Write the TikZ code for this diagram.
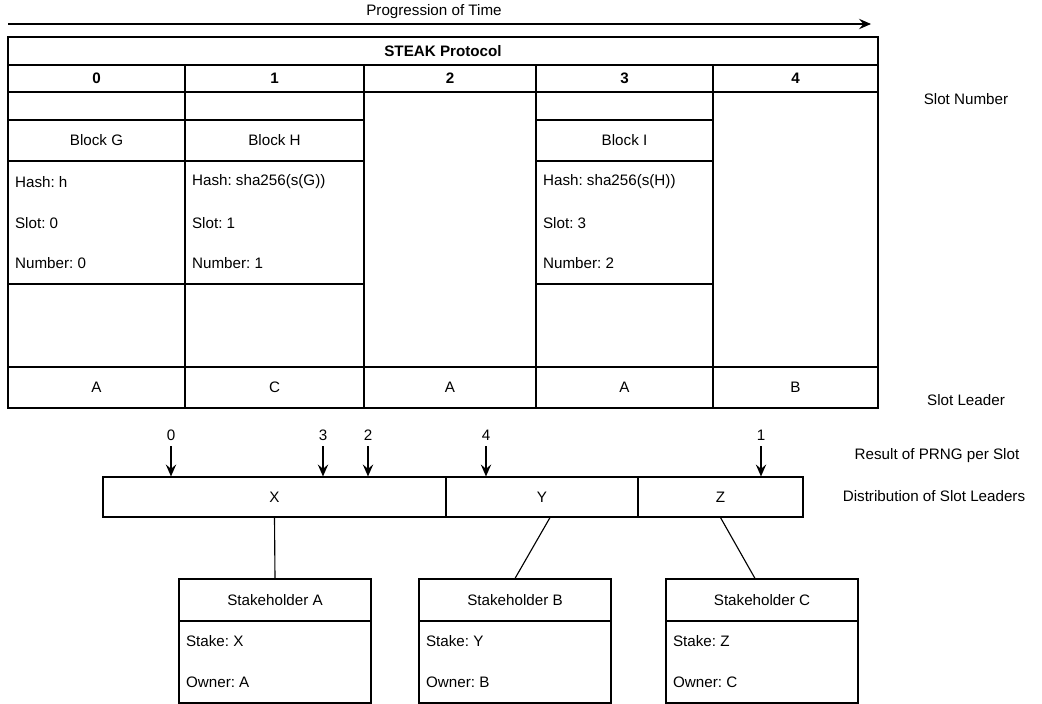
\documentclass[tikz,border=0pt]{standalone}
\usepackage{fontspec}
\setmainfont{Liberation Sans}
\frenchspacing
\usetikzlibrary{arrows.meta,positioning}

\tikzset{
  cell/.style={draw, rectangle, inner sep=0pt, line width=0.8pt, font=\fontsize{10.8}{13}\selectfont},
  spans/.style n args={4}{minimum width={(#3-#1)*0.025cm}, minimum height={(#4-#2)*0.025cm},
    at={({(#1+#3)/2},{(#2+#4)/2})}},
  txt/.style={inner sep=2pt, font=\fontsize{10.8}{13}\selectfont},
  lefttxt/.style={txt, anchor=west},
  arr/.style={-{Stealth[length=3mm, width=2.6mm, inset=1.1mm]}, line width=0.8pt},
  link/.style={line width=0.8pt}
}

\begin{document}
\begin{tikzpicture}[x=0.025cm, y=-0.025cm]
\useasboundingbox (0,0) rectangle (1042,704);

% Time arrow
\node[txt] (timelbl) at (434,12) {Progression of Time};
\coordinate (tstart) at (8,24);
\coordinate (tend) at (871,24);
\draw[arr] (tstart) -- (tend);

% Protocol table
\node[cell, spans={8}{37}{878}{65}] (title) {\textbf{STEAK Protocol}};
\foreach \i/\xa/\xb/\lead in {0/8/185/A, 1/185/364/C, 2/364/536/A, 3/536/713/A, 4/713/878/B} {
  \node[cell, spans={\xa}{65}{\xb}{92}] (hd\i) {\textbf{\i}};
  \node[cell, spans={\xa}{367}{\xb}{408}] (ld\i) {\lead};
}

% Slots without a block
\foreach \i/\xa/\xb in {2/364/536, 4/713/878} {
  \node[cell, spans={\xa}{92}{\xb}{367}] (body\i) {};
}

% Slots with a block
\foreach \i/\xa/\xb/\blk/\hash/\num in {0/8/185/G/h/0, 1/185/364/H/sha256(s(G))/1, 3/536/713/I/sha256(s(H))/2} {
  \node[cell, spans={\xa}{92}{\xb}{120}] (top\i) {};
  \node[cell, spans={\xa}{120}{\xb}{161}] (blk\i) {Block \blk};
  \node[cell, spans={\xa}{161}{\xb}{284}] (info\i) {};
  \node[cell, spans={\xa}{284}{\xb}{367}] (rest\i) {};
  \node[lefttxt] (hash\i) at (\xa+4,182) {Hash: \hash};
  \node[lefttxt] (slot\i) at (\xa+4,223) {Slot: \i};
  \node[lefttxt] (num\i) at (\xa+4,263) {Number: \num};
}

% Row labels
\node[txt] (slotnum) at (966,99) {Slot Number};
\node[txt] (slotlead) at (966,400) {Slot Leader};
\node[txt] (prnglbl) at (937,456) {Result of PRNG per Slot};
\node[txt] (distlbl) at (934,496) {Distribution of Slot Leaders};

% Distribution of slot leaders
\node[cell, spans={103}{477}{446}{517}] (distX) {X};
\node[cell, spans={446}{477}{638}{517}] (distY) {Y};
\node[cell, spans={638}{477}{803}{517}] (distZ) {Z};

% PRNG results
\foreach \v/\x in {0/171, 3/323, 2/368, 4/486, 1/761} {
  \node[txt] (prng\v) at (\x,435) {\v};
  \draw[arr, shorten <=2pt] (prng\v.south) -- (prng\v |- distX.north);
}

% Stakeholders
\foreach \s/\xa/\xb/\stk in {A/179/371/X, B/419/611/Y, C/666/858/Z} {
  \node[cell, spans={\xa}{579}{\xb}{621}] (sh\s) {Stakeholder \s};
  \node[cell, spans={\xa}{621}{\xb}{703}] (sb\s) {};
  \node[lefttxt] (stake\s) at (\xa+4,641) {Stake: \stk};
  \node[lefttxt] (owner\s) at (\xa+4,682) {Owner: \s};
}

\draw[link] (distX.south) -- (shA.north);
\draw[link] ([xshift=0.2cm]distY.south) -- (shB.north);
\draw[link] (distZ.south) -- ([xshift=-0.175cm]shC.north);

\end{tikzpicture}
\end{document}
